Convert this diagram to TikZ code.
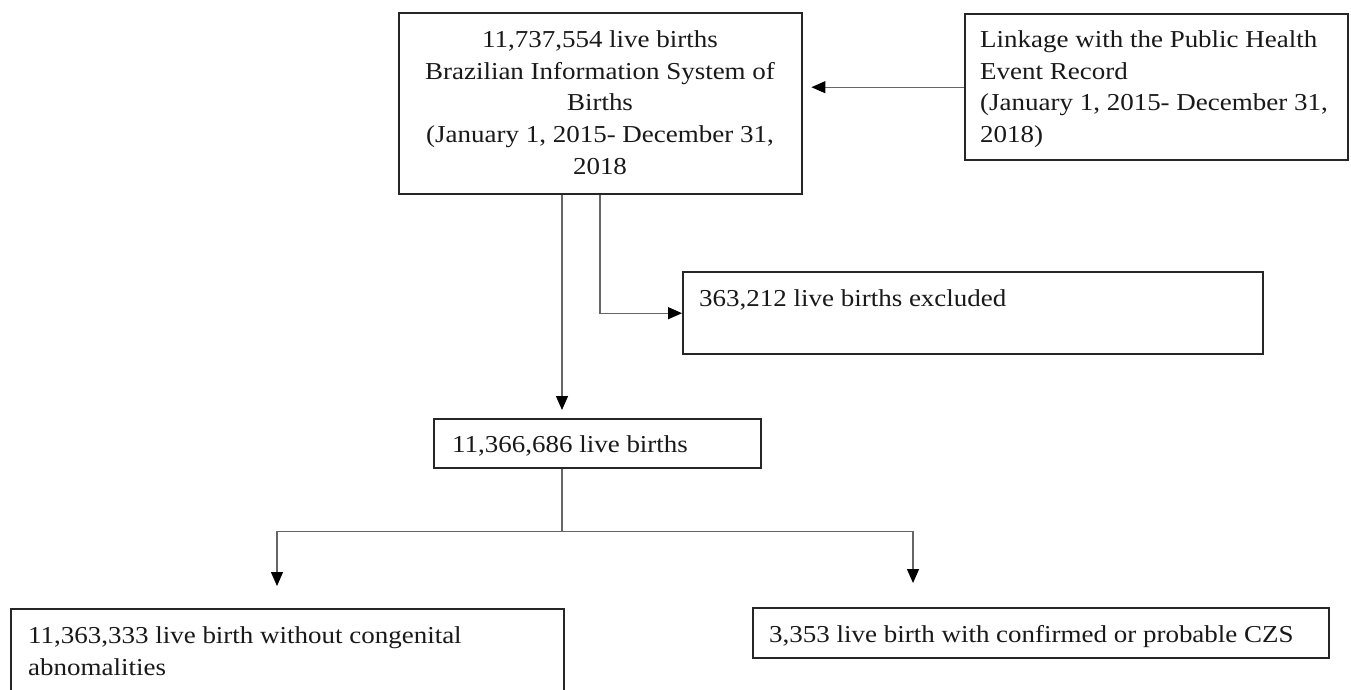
\documentclass[tikz,border=0pt]{standalone}
\usepackage{fontspec}
\setmainfont{Liberation Serif}[FakeStretch=1.11]
\usetikzlibrary{arrows.meta}
\begin{document}
\begin{tikzpicture}[x=1pt,y=-1pt,
  box/.style={draw=black!85, line width=2.4pt, inner sep=0pt, anchor=north west},
  txt/.style={inner sep=0pt, font=\fontsize{24.3}{31.7}\selectfont, text=black!90},
  conn/.style={draw=black!60, line width=1.3pt},
  arr/.style={conn, -{Triangle[length=14pt,width=12pt,color=black,fill=black]}}]
\useasboundingbox (0,0) rectangle (1351,690);
\clip (0,0) rectangle (1351,690);
\fill[white] (0,0) rectangle (1351,690);
% boxes
\node[box, minimum width=403pt, minimum height=181pt] (main) at (398,12) {};
\node[box, minimum width=383pt, minimum height=146pt] (link) at (964,13) {};
\node[box, minimum width=580pt, minimum height=82pt] (excl) at (682,271) {};
\node[box, minimum width=327pt, minimum height=49pt] (mid) at (433,418) {};
\node[box, minimum width=553pt, minimum height=100pt] (left) at (10,608) {};
\node[box, minimum width=576pt, minimum height=50pt] (right) at (752,607) {};
% texts
\node[txt, align=center, anchor=north] (maint) at (600,30.5)
  {11,737,554 live births\\Brazilian Information System of\\Births\\(January 1, 2015- December 31,\\2018};
\node[txt, align=left, anchor=north west] (linkt) at (980,30.5)
  {Linkage with the Public Health\\Event Record\\(January 1, 2015- December 31,\\2018)};
\node[txt, anchor=base west] (exclt) at (699,306) {363,212 live births excluded};
\node[txt, anchor=base west] (midt) at (452,452) {11,366,686 live births};
\node[txt, align=left, anchor=north west] (leftt) at (28,626.5)
  {11,363,333 live birth without congenital\\abnomalities};
\node[txt, anchor=base west] (rightt) at (769,642) {3,353 live birth with confirmed or probable CZS};
% connectors
\draw[arr, shorten >=8pt] (link.west) -- (link.west -| main.east);
\draw[arr, shorten >=8pt] ([xshift=164pt]main.south west) -- ([xshift=164pt]main.south west |- mid.north);
\draw[arr] ([xshift=202pt]main.south west) |- (excl.west);
\draw[conn] ([xshift=129pt]mid.south west) -- ++(0,62) coordinate (split);
\draw[arr] (split) -| ([xshift=267pt, yshift=22pt]left.north west);
\draw[arr] (split) -| ([xshift=161pt, yshift=24pt]right.north west);
\end{tikzpicture}
\end{document}
